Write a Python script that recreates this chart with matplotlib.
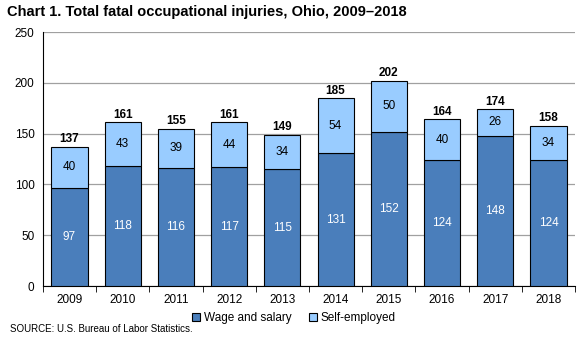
import numpy as np
import matplotlib.pyplot as plt

years = ['2009', '2010', '2011', '2012', '2013', '2014', '2015', '2016', '2017', '2018']
wage = [97, 118, 116, 117, 115, 131, 152, 124, 148, 124]
self_emp = [40, 43, 39, 44, 34, 54, 50, 40, 26, 34]
totals = [137, 161, 155, 161, 149, 185, 202, 164, 174, 158]

plt.rcParams['font.family'] = ['Liberation Sans', 'DejaVu Sans']

fig = plt.figure(figsize=(5.88, 3.41), dpi=100)
ax = fig.add_axes([0.073, 0.161, 0.905, 0.745])

x = np.arange(len(years))
w = 0.68
dark = '#4a7ebb'
light = '#99ccff'

b1 = ax.bar(x, wage, w, color=dark, edgecolor='black', linewidth=0.8, label='Wage and salary', zorder=3)
b2 = ax.bar(x, self_emp, w, bottom=wage, color=light, edgecolor='black', linewidth=0.8, label='Self-employed', zorder=3)

for i in range(len(years)):
    ax.text(x[i], wage[i] / 2, str(wage[i]), ha='center', va='center', color='white', fontsize=8.5, zorder=4)
    ax.text(x[i], wage[i] + self_emp[i] / 2, str(self_emp[i]), ha='center', va='center', color='black', fontsize=8.5, zorder=4)
    ax.text(x[i], totals[i] + 1.5, str(totals[i]), ha='center', va='bottom', color='black', fontsize=8.5, fontweight='bold', zorder=4)

ax.set_xlim(-0.5, len(years) - 0.5)
ax.set_ylim(0, 250)
ax.set_yticks(range(0, 251, 50))
ax.set_xticks(x)
ax.set_xticklabels(years)
ax.set_xticks(np.arange(-0.5, len(years), 1), minor=True)
ax.tick_params(axis='x', which='major', length=0, labelsize=8.5, pad=6)
ax.tick_params(axis='x', which='minor', length=4, color='black')
ax.tick_params(axis='y', length=0, labelsize=8.5, pad=6)
ax.yaxis.grid(True, color='#a0a0a0', linewidth=0.9, zorder=0)
for s in ['top', 'right']:
    ax.spines[s].set_visible(False)
ax.spines['left'].set_color('black')
ax.spines['bottom'].set_color('black')

fig.text(0.012, 0.965, 'Chart 1. Total fatal occupational injuries, Ohio, 2009\u20132018',
         fontsize=10.5, fontweight='bold', va='center', ha='left')

fig.legend(handles=[b1, b2], loc='center', bbox_to_anchor=(0.5, 0.067), ncol=2, frameon=False,
           fontsize=8.5, handlelength=0.7, handleheight=0.7, handletextpad=0.3, columnspacing=1.5)

fig.text(0.017, 0.035, 'SOURCE: U.S. Bureau of Labor Statistics.', fontsize=7, va='center', ha='left')

fig.savefig('out.png', dpi=100)
